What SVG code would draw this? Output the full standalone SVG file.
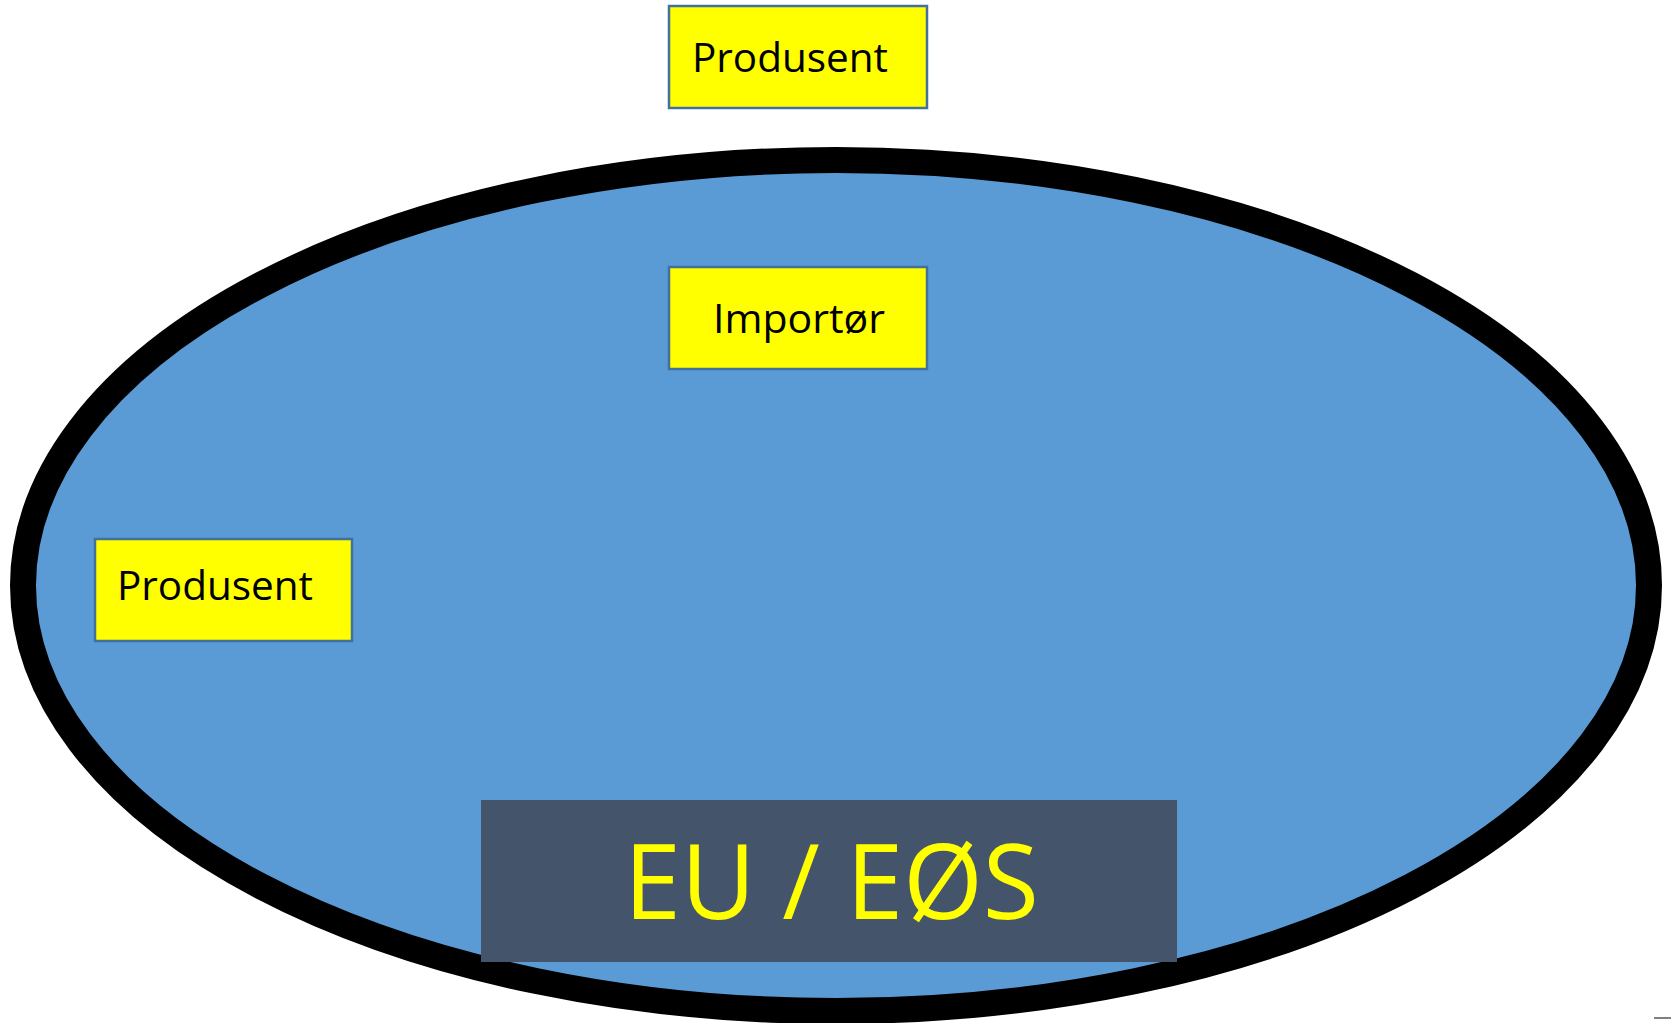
<svg xmlns="http://www.w3.org/2000/svg" width="1671" height="1023" viewBox="0 0 1671 1023">
<style>
.box{fill:#FFFF00;stroke:#41719C;stroke-width:2.5}
.lbl{font-family:"Open Sans","DejaVu Sans",sans-serif;font-size:40px;fill:#000}
.big{font-family:"Open Sans","DejaVu Sans",sans-serif;font-size:104px;fill:#FFFF00}
</style>
<rect x="0" y="0" width="1671" height="1023" fill="#FFFFFF"/>
<g id="eu-area">
<ellipse cx="836" cy="585.5" rx="813" ry="425.5" fill="#5B9BD5" stroke="#000000" stroke-width="26"/>
</g>
<g id="connectors"></g>
<g id="produsent-top">
<rect class="box" x="669" y="6" width="258" height="102"/>
<text class="lbl" x="692" y="72" textLength="196" lengthAdjust="spacingAndGlyphs">Produsent</text>
</g>
<g id="importor">
<rect class="box" x="669" y="267" width="258" height="102"/>
<text class="lbl" x="713" y="333" textLength="172" lengthAdjust="spacingAndGlyphs">Importør</text>
</g>
<g id="produsent-left">
<rect class="box" x="95" y="539" width="257" height="102"/>
<text class="lbl" x="117" y="600" textLength="196" lengthAdjust="spacingAndGlyphs">Produsent</text>
</g>
<g id="eu-eos">
<rect x="481" y="800" width="696" height="162" fill="#44546A"/>
<text class="big" x="624" y="919" textLength="415" lengthAdjust="spacingAndGlyphs">EU / EØS</text>
</g>
<line x1="1654" y1="1018" x2="1671" y2="1018" stroke="#808080" stroke-width="2"/>
</svg>
